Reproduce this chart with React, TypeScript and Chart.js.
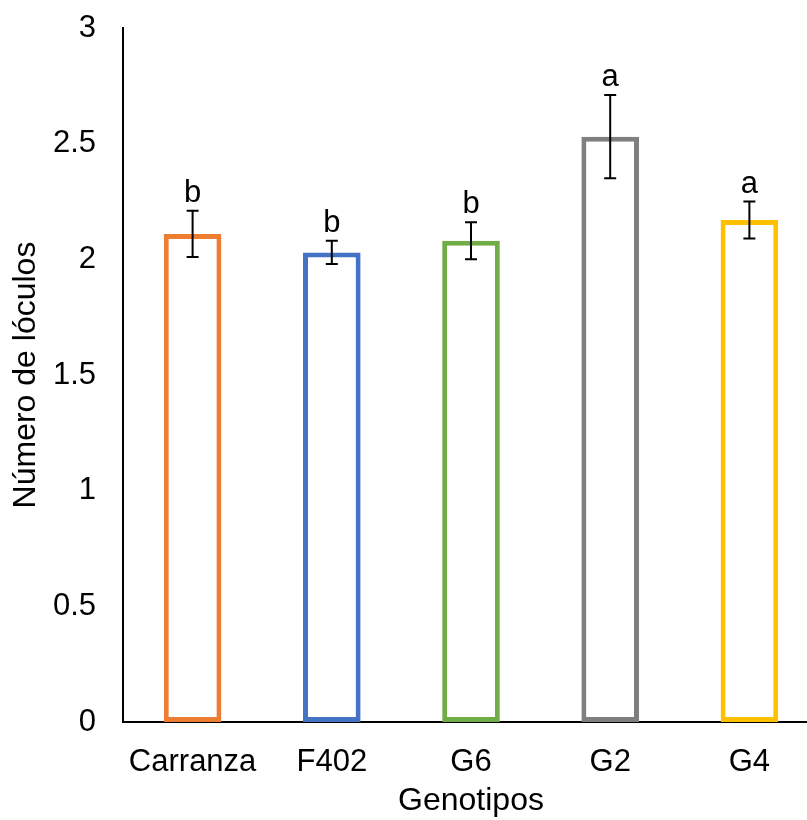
import React, { useEffect, useRef } from "react";
import { Chart, registerables } from "chart.js";

Chart.register(...registerables);

const FONT = "'Liberation Sans', Arial, Helvetica, sans-serif";

const categories = ["Carranza", "F402", "G6", "G2", "G4"];
const means = [2.11, 2.03, 2.08, 2.53, 2.17];
const errors = [0.1, 0.05, 0.08, 0.18, 0.08];
const letters = ["b", "b", "b", "a", "a"];
const barColors = ["#ED7D31", "#4472C4", "#70AD47", "#7F7F7F", "#FFC000"];
const yTicks = [0, 0.5, 1, 1.5, 2, 2.5, 3];

const errorBarPlugin = {
  id: "errorBars",
  afterDatasetsDraw(chart: any) {
    const { ctx } = chart;
    const meta = chart.getDatasetMeta(0);
    const y = chart.scales.y;
    ctx.save();
    ctx.strokeStyle = "#000";
    ctx.lineWidth = 2;
    meta.data.forEach((bar: any, i: number) => {
      const x = bar.x;
      const top = y.getPixelForValue(means[i] + errors[i]);
      const bot = y.getPixelForValue(means[i] - errors[i]);
      ctx.beginPath();
      ctx.moveTo(x, top);
      ctx.lineTo(x, bot);
      ctx.moveTo(x - 6, top);
      ctx.lineTo(x + 6, top);
      ctx.moveTo(x - 6, bot);
      ctx.lineTo(x + 6, bot);
      ctx.stroke();
      ctx.fillStyle = "#000";
      ctx.font = `31px ${FONT}`;
      ctx.textAlign = "center";
      ctx.textBaseline = "alphabetic";
      ctx.fillText(letters[i], x, top - 9);
    });
    ctx.restore();
  },
};

export default function App() {
  const ref = useRef<HTMLCanvasElement | null>(null);

  useEffect(() => {
    if (!ref.current) return;
    const chart = new Chart(ref.current, {
      type: "bar",
      data: {
        labels: categories,
        datasets: [
          {
            data: means,
            backgroundColor: "#ffffff",
            borderColor: barColors,
            borderWidth: 5,
            borderSkipped: false,
            barPercentage: 0.414,
            categoryPercentage: 1,
          },
        ],
      },
      options: {
        responsive: false,
        animation: false,
        devicePixelRatio: 1,
        layout: { padding: { left: 0, right: 1, top: 28, bottom: 0 } },
        plugins: {
          legend: { display: false },
          tooltip: { enabled: false },
        },
        scales: {
          x: {
            z: 1,
            grid: { display: false, drawTicks: false },
            border: { display: true, color: "#000", width: 2 },
            ticks: {
              color: "#000",
              font: { family: FONT, size: 31 },
              padding: 22,
              maxRotation: 0,
              autoSkip: false,
            },
            title: {
              display: true,
              text: "Genotipos",
              color: "#000",
              font: { family: FONT, size: 32 },
              padding: { top: 0, bottom: 0 },
            },
            afterFit: (s: any) => {
              s.height = 98;
              s.paddingLeft = 0;
              s.paddingRight = 0;
              s.paddingTop = 0;
              s.paddingBottom = 0;
            },
          },
          y: {
            min: 0,
            max: 3,
            afterBuildTicks: (s: any) => {
              s.ticks = yTicks.map((v) => ({ value: v }));
            },
            grid: { display: false, drawTicks: false },
            border: { display: true, color: "#000", width: 2 },
            ticks: {
              color: "#000",
              font: { family: FONT, size: 31 },
              padding: 27,
              callback: (v: any) => String(v),
            },
            title: {
              display: true,
              text: "Número de lóculos",
              color: "#000",
              font: { family: FONT, size: 32 },
              padding: { top: 7, bottom: 0 },
            },
            afterFit: (s: any) => {
              s.width = 123;
              s.paddingLeft = 0;
              s.paddingRight = 0;
              s.paddingTop = 0;
              s.paddingBottom = 0;
            },
          },
        },
      },
      plugins: [errorBarPlugin],
    } as any);
    return () => chart.destroy();
  }, []);

  return (
    <div
      style={{
        position: "absolute",
        left: 0,
        top: 0,
        width: 807,
        height: 820,
        overflow: "hidden",
        background: "#fff",
      }}
    >
      <canvas ref={ref} width={820} height={820} style={{ width: 820, height: 820, display: "block" }} />
    </div>
  );
}
